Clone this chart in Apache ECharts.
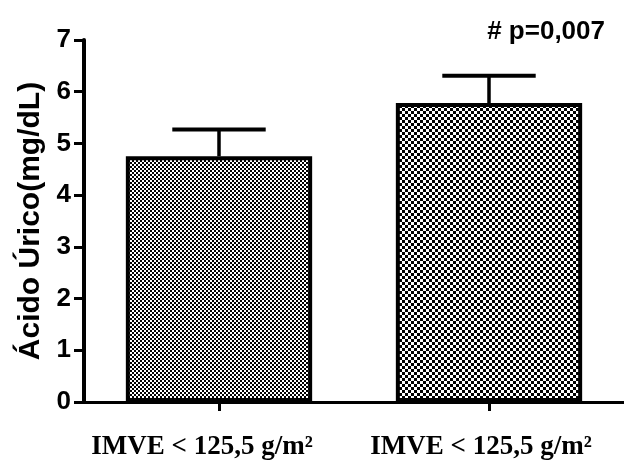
<!DOCTYPE html>
<html><head><meta charset="utf-8">
<script src="https://cdn.jsdelivr.net/npm/echarts@6/dist/echarts.min.js"></script>
<style>html,body{margin:0;padding:0;background:#fff}#c{width:624px;height:461px}</style>
</head><body><div id="c"></div>
<script>
const categories = ['IMVE < 125,5 g/m²', 'IMVE < 125,5 g/m²'];
const means = [4.75, 5.78];
const errUpper = [5.27, 6.31];
const yTicks = [0, 1, 2, 3, 4, 5, 6, 7];
const titleText = '# p=0,007';
const yName = 'Ácido Úrico(mg/dL)';

function checker(size) {
  const c = document.createElement('canvas');
  c.width = size * 2; c.height = size * 2;
  const g = c.getContext('2d');
  g.fillStyle = '#fff'; g.fillRect(0, 0, size * 2, size * 2);
  g.fillStyle = '#000';
  g.fillRect(0, 0, size, size);
  g.fillRect(size, size, size, size);
  return c;
}
const patterns = [checker(2), checker(3)];
const labelPad = [[0, 34, 0, 0], [0, 16, 0, 0]];

const chart = echarts.init(document.getElementById('c'), null, {renderer: 'canvas'});
chart.setOption({
  animation: false,
  title: {
    text: titleText, right: 14, top: 14,
    textStyle: {fontFamily: 'Liberation Sans', fontWeight: 'bold', fontSize: 26, color: '#000'}
  },
  grid: {left: 84, right: -2, top: 40, bottom: 57},
  xAxis: {
    type: 'category',
    data: categories.map((c, i) => ({value: c, textStyle: {padding: labelPad[i]}})),
    axisLine: {lineStyle: {color: '#000', width: 3}},
    axisTick: {show: true, interval: 0, alignWithLabel: true, length: 9, lineStyle: {color: '#000', width: 3}},
    axisLabel: {interval: 0, hideOverlap: false, margin: 32, fontFamily: 'Liberation Serif', fontWeight: 'bold', fontSize: 27, color: '#000'}
  },
  yAxis: {
    type: 'value', min: yTicks[0], max: yTicks[yTicks.length - 1], interval: 1,
    name: yName, nameLocation: 'middle', nameGap: 38, nameRotate: 90,
    nameTextStyle: {fontFamily: 'Liberation Sans', fontWeight: 'bold', fontSize: 30, color: '#000'},
    axisLine: {show: true, lineStyle: {color: '#000', width: 4}},
    axisTick: {show: true, length: 10, lineStyle: {color: '#000', width: 3}},
    axisLabel: {margin: 13, fontFamily: 'Liberation Sans', fontWeight: 'bold', fontSize: 26, color: '#000'},
    splitLine: {show: false}
  },
  series: [
    {
      type: 'custom',
      z: 1,
      data: categories.map((c, i) => [i, means[i], errUpper[i]]),
      renderItem: function (params, api) {
        const top = api.coord([api.value(0), api.value(2)]);
        const base = api.coord([api.value(0), api.value(1)]);
        const hw = api.size([1, 0])[0] * 0.173;
        return {
          type: 'group',
          children: [
            {type: 'line', shape: {x1: top[0], y1: top[1], x2: base[0], y2: base[1]}, style: {stroke: '#000', lineWidth: 3.5}},
            {type: 'line', shape: {x1: top[0] - hw, y1: top[1], x2: top[0] + hw, y2: top[1]}, style: {stroke: '#000', lineWidth: 4}}
          ]
        };
      }
    },
    {
      type: 'bar', z: 2,
      barWidth: '69%',
      data: means.map((v, i) => ({
        value: v,
        itemStyle: {color: {image: patterns[i], repeat: 'repeat'}, borderColor: '#000', borderWidth: 4}
      }))
    }
  ]
});
</script></body></html>
